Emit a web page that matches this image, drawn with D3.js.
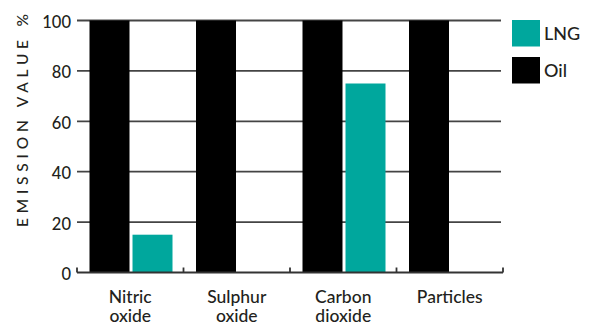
<!DOCTYPE html>
<html><head><meta charset="utf-8">
<script src="https://cdn.jsdelivr.net/npm/d3@7"></script>
<style>html,body{margin:0;padding:0;background:#fff;}svg{display:block;}</style>
</head><body>
<svg id="chart" width="589" height="324"></svg>
<script>
const categories = [["Nitric","oxide"],["Sulphur","oxide"],["Carbon","dioxide"],["Particles"]];
const series = ["Oil","LNG"];
const oilValues = [100,100,100,100];
const lngValues = [15,0,75,0];
const yTicks = [0,20,40,60,80,100];
const colors = {Oil:"#000000", LNG:"#00a79d"};
const legendOrder = ["LNG","Oil"];

const svg = d3.select("#chart");
const font = "Lato, 'Open Sans', sans-serif";
const textColor = "#231f20";
const catKeys = categories.map(c => c.join(" "));

const x = d3.scaleBand().domain(catKeys).range([77,503]).padding(0);
const xi = d3.scaleBand().domain(series).range([12.5,95.5]).paddingInner(0.07);
const y = d3.scaleLinear().domain([0,100]).range([272.5,20.5]);

// gridlines
svg.append("g").selectAll("line").data(yTicks.filter(t=>t>0)).join("line")
  .attr("x1",77).attr("x2",501).attr("y1",d=>y(d)).attr("y2",d=>y(d))
  .attr("stroke","#444").attr("stroke-width",1.8);

// bars
const data = [];
catKeys.forEach((c,i)=>{
  data.push({cat:c, s:"Oil", v:oilValues[i]});
  data.push({cat:c, s:"LNG", v:lngValues[i]});
});
svg.append("g").selectAll("rect").data(data.filter(d=>d.v>0)).join("rect")
  .attr("x",d=>x(d.cat)+xi(d.s)).attr("width",xi.bandwidth())
  .attr("y",d=>y(d.v)).attr("height",d=>y(0)-y(d.v))
  .attr("fill",d=>colors[d.s]);

// baseline + ticks
const base = svg.append("g").attr("stroke","#333").attr("stroke-width",1.8).attr("fill","none");
base.append("line").attr("x1",77).attr("x2",503).attr("y1",y(0)).attr("y2",y(0));
const bounds = catKeys.map(c=>x(c)).concat([x.range()[1]]);
base.selectAll(".tk").data(bounds).join("line").attr("class","tk")
  .attr("x1",d=>d).attr("x2",d=>d).attr("y1",y(0)).attr("y2",y(0)-5);

// y tick labels
svg.append("g").selectAll("text").data(yTicks).join("text")
  .attr("x",71).attr("y",d=>y(d)+1.5).attr("text-anchor","end")
  .attr("dominant-baseline","central")
  .attr("font-family",font).attr("font-size",16.5).attr("font-weight",500).attr("fill",textColor)
  .text(d=>d);

// category labels
const cl = svg.append("g").selectAll("text").data(categories).join("text")
  .attr("x",(d,i)=>x(catKeys[i])+x.bandwidth()/2).attr("y",302.5)
  .attr("text-anchor","middle").attr("font-family",font).attr("font-size",17.5).attr("font-weight",500).attr("fill",textColor);
cl.selectAll("tspan").data(d=>d).join("tspan")
  .attr("x",function(){return this.parentNode.getAttribute("x");})
  .attr("dy",(d,i)=>i===0?0:19).text(d=>d);

// y title
svg.append("text").attr("transform","translate(27.5,227) rotate(-90)")
  .attr("font-family",font).attr("font-size",15.5).attr("font-weight",500).attr("fill",textColor)
  .attr("textLength",213).attr("lengthAdjust","spacing")
  .text("EMISSION VALUE %");

// legend
const lg = svg.append("g").selectAll("g").data(legendOrder).join("g")
  .attr("transform",(d,i)=>`translate(512,${20+i*37})`);
lg.append("rect").attr("width",28).attr("height",26.5).attr("fill",d=>colors[d]);
lg.append("text").attr("x",32).attr("y",19.5).attr("font-family",font).attr("font-size",18).attr("font-weight",500)
  .attr("fill",textColor).text(d=>d);
</script>
</body></html>
